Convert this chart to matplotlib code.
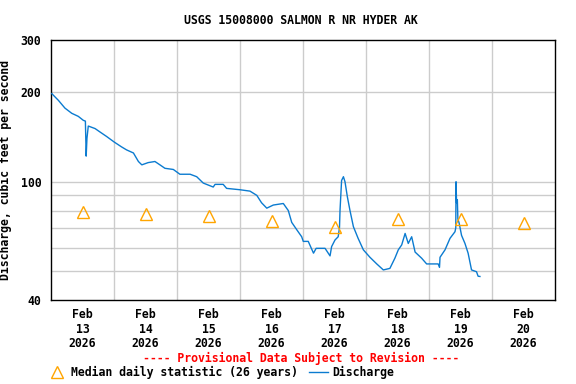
import numpy as np
import pandas as pd
import matplotlib
matplotlib.use('Agg')
import matplotlib.pyplot as plt
from matplotlib.lines import Line2D

# discharge readings, hours after 2026-02-13 00:00 and cfs
hours = [0.3, 2.8, 5.3, 7.9, 10.4, 12.3, 13.1, 13.4, 13.7, 14.2, 16.8, 18.7, 21.2,
         24.1, 26.9, 28.8, 31.4, 33.3, 34.6, 37.0, 39.6, 41.5, 43.4, 46.6, 49.1,
         53.0, 55.5, 58.0, 61.8, 62.5, 65.6, 66.9, 72.0, 75.8, 78.4, 80.2, 82.2,
         84.7, 88.5, 90.4, 91.7, 93.6, 95.5, 96.1, 98.0, 100.0, 101.0, 102.5, 104.4,
         106.3, 106.9, 108.2, 109.4, 109.9, 110.1, 110.7, 111.4, 112.0, 112.9, 113.9,
         115.2, 117.0, 119.0, 121.5, 124.1, 126.6, 129.1, 131.0, 132.3, 133.6, 134.9,
         136.1, 137.4, 138.7, 141.2, 143.1, 147.5, 148.0, 148.2, 150.1, 152.0, 153.9,
         154.2, 154.3, 154.5, 154.8, 155.0, 155.5, 156.4, 157.7, 158.9, 160.2, 162.1,
         162.7, 163.4]
discharge = [198, 188, 177, 170, 166, 161, 160, 122, 140, 154, 151, 147, 142,
             136, 131, 128, 125, 117, 114, 116, 117, 114, 111, 110, 106,
             106, 104, 99, 96, 98, 98, 95, 94, 93, 90, 85, 81.5,
             83.5, 84.5, 80, 73, 69, 65.3, 63, 63, 57.5, 59.7, 59.7, 59.7,
             56.3, 60.5, 63.7, 65.3, 70, 80, 101, 104, 100, 89, 80,
             70.6, 64.5, 59, 55.7, 52.9, 50.5, 51.1, 55.3, 59, 61.3, 67,
             62, 65.3, 58, 55.3, 52.9, 52.9, 51.5, 55.7, 59, 64.5, 67.9,
             70, 100, 85, 87, 75, 72.5, 66, 62, 57.5, 50.5, 49.8,
             48.1, 48]

# median daily statistic (26 years), one per day at noon
median_days = ['2026-02-13', '2026-02-14', '2026-02-15', '2026-02-16',
               '2026-02-17', '2026-02-18', '2026-02-19', '2026-02-20']
median_vals = [79, 78, 76.7, 73.5, 70.4, 74.7, 74.7, 72.4]

start = pd.Timestamp('2026-02-13')
t = start + pd.to_timedelta(hours, unit='h')
tm = pd.to_datetime(median_days) + pd.Timedelta(hours=12)

font = 'DejaVu Sans Mono'
fs = 8.3

fig = plt.figure(figsize=(5.76, 3.84), dpi=100)
ax = fig.add_axes([51/576, 1 - 300/384, 504/576, 260/384])

blue = '#0b7bd0'
orange = '#ffa500'
grid = '#cccccc'

ax.plot(t, discharge, color=blue, lw=1.0, zorder=3)
ax.plot(tm, median_vals, ls='none', marker='^', ms=9, mfc='none', mec=orange, mew=1.0, zorder=4)

ax.set_yscale('log')
ax.set_ylim(40, 300)
ax.set_xlim(start, start + pd.Timedelta(days=8))

for v in [50, 60, 70, 80, 90, 100, 200]:
    ax.axhline(v, color=grid, lw=1.0, zorder=1)
for d in range(1, 8):
    ax.axvline(start + pd.Timedelta(days=d), color=grid, lw=1.0, zorder=1)

ax.yaxis.set_minor_locator(matplotlib.ticker.NullLocator())
ax.set_yticks([40, 100, 200, 300])
ax.set_yticklabels(['40', '100', '200', '300'], fontfamily=font, fontweight='bold', fontsize=fs)
ax.set_xticks(tm)
ax.set_xticklabels(['Feb\n%d\n2026' % d.day for d in tm], fontfamily=font,
                   fontweight='bold', fontsize=fs, linespacing=1.15)
ax.tick_params(length=0, pad=6)
ax.tick_params(axis='y', pad=7)
for s in ax.spines.values():
    s.set_linewidth(1.0)
    s.set_color('black')

ax.set_ylabel('Discharge, cubic feet per second', fontfamily=font, fontweight='bold',
              fontsize=fs)
ax.yaxis.set_label_coords(-39/504, 0.5)

fig.text(301/576, 1 - 20/384, 'USGS 15008000 SALMON R NR HYDER AK', ha='center', va='center',
         fontfamily=font, fontweight='bold', fontsize=fs)
fig.text(301/576, 1 - 358/384, '---- Provisional Data Subject to Revision ----', ha='center',
         va='center', fontfamily=font, fontweight='bold', fontsize=fs, color='red')

handles = [Line2D([], [], ls='none', marker='^', ms=9, mfc='none', mec=orange, mew=1.0),
           Line2D([], [], color=blue, lw=1.0)]
labels = ['Median daily statistic (26 years)', 'Discharge']
fig.legend(handles, labels, loc='center left', bbox_to_anchor=(48/576, 1 - 372/384), ncol=2,
           frameon=False, handlelength=1.6, handletextpad=0.4, columnspacing=1.0,
           borderpad=0, borderaxespad=0,
           prop={'family': font, 'weight': 'bold', 'size': fs})

fig.savefig('out.png', dpi=100)
